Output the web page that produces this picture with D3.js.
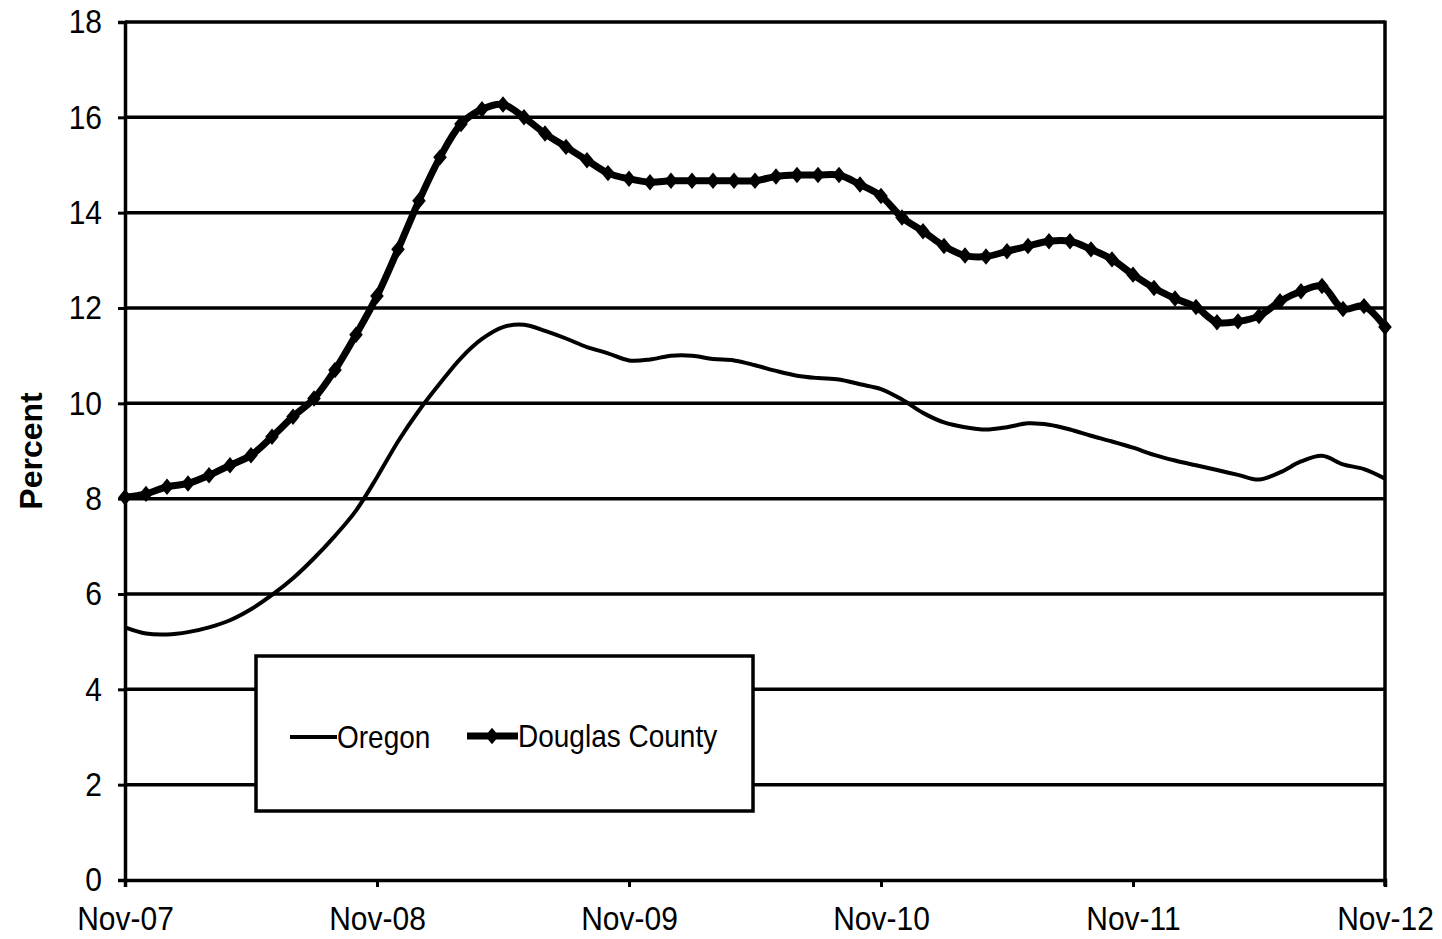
<!DOCTYPE html>
<html><head><meta charset="utf-8">
<script src="https://cdn.jsdelivr.net/npm/d3@7"></script>
<style>body{margin:0;background:#fff}svg{display:block}text{font-family:"Liberation Sans",Arial,sans-serif;fill:#000}
.st{transform-box:fill-box;transform-origin:center;transform:scaleY(1.12)}</style>
</head><body><svg id="c" width="1442" height="939"></svg>
<script>
const xTickLabels = ["Nov-07","Nov-08","Nov-09","Nov-10","Nov-11","Nov-12"];
const yTicks = [0,2,4,6,8,10,12,14,16,18];
const seriesNames = ["Oregon","Douglas County"];
const oregon = [5.3,5.17,5.15,5.2,5.3,5.45,5.68,5.98,6.33,6.75,7.22,7.75,8.45,9.2,9.85,10.42,10.95,11.35,11.6,11.65,11.52,11.36,11.18,11.05,
  10.9,10.92,11.0,11.0,10.93,10.9,10.8,10.68,10.58,10.53,10.5,10.4,10.3,10.08,9.8,9.6,9.5,9.45,9.5,9.58,9.55,9.45,9.32,9.2,9.07,8.92,8.8,8.7,8.6,8.5,8.4,8.55,8.78,8.9,8.72,8.62,8.42];
const douglas = [8.03,8.1,8.25,8.32,8.49,8.7,8.91,9.3,9.72,10.1,10.7,11.44,12.25,13.23,14.25,15.16,15.86,16.17,16.27,16.0,15.66,15.38,15.1,14.83,
  14.71,14.64,14.67,14.67,14.67,14.67,14.67,14.76,14.79,14.79,14.79,14.59,14.35,13.9,13.61,13.3,13.1,13.08,13.19,13.3,13.4,13.4,13.23,13.02,12.7,12.42,12.2,12.02,11.7,11.72,11.83,12.14,12.35,12.46,11.98,12.04,11.6];

const svg = d3.select("#c");
const L=125, R=1385, T=22, B=880;
const x = d3.scaleLinear().domain([0,60]).range([L,R]);
const y = d3.scaleLinear().domain([0,18]).range([B,T]);

svg.append("g").selectAll("line").data(yTicks.filter(d=>d>0)).join("line")
  .attr("x1",L).attr("x2",R).attr("y1",d=>y(d)).attr("y2",d=>y(d))
  .attr("stroke","#000").attr("stroke-width",3.5);
svg.append("line").attr("x1",R).attr("x2",R).attr("y1",T-1.5).attr("y2",B+6).attr("stroke","#000").attr("stroke-width",3.5);

const yAxis = svg.append("g").attr("transform",`translate(${L},0)`)
  .call(d3.axisLeft(y).tickValues(yTicks).tickSize(7).tickPadding(16));
const xAxis = svg.append("g").attr("transform",`translate(0,${B})`)
  .call(d3.axisBottom(x).tickValues([0,12,24,36,48,60]).tickFormat((d,i)=>xTickLabels[i]).tickSize(7).tickPadding(20));
[yAxis,xAxis].forEach(a=>{
  a.select(".domain").attr("stroke","#000").attr("stroke-width",3.5);
  a.selectAll(".tick line").attr("stroke","#000").attr("stroke-width",3);
  a.selectAll(".tick text").attr("font-size",30).attr("font-family","Liberation Sans, Arial, sans-serif").attr("fill","#000").attr("class","st");
});

svg.append("text").attr("transform","translate(42,451) rotate(-90)").attr("text-anchor","middle")
  .attr("font-size",32).attr("font-weight","bold").text("Percent");

const lineGen = d3.line().x((d,i)=>x(i)).y(d=>y(d)).curve(d3.curveCatmullRom);
svg.append("path").datum(oregon).attr("d",lineGen).attr("fill","none").attr("stroke","#000").attr("stroke-width",4);
svg.append("path").datum(douglas).attr("d",lineGen).attr("fill","none").attr("stroke","#000").attr("stroke-width",7);
const diamondType = {draw(ctx,size){const h=Math.sqrt(size)*0.75,w=Math.sqrt(size)*0.62;ctx.moveTo(0,-h);ctx.lineTo(w,0);ctx.lineTo(0,h);ctx.lineTo(-w,0);ctx.closePath();}};
const diamond = d3.symbol().type(diamondType).size(120);
svg.append("g").selectAll("path").data(douglas).join("path")
  .attr("d",diamond).attr("transform",(d,i)=>`translate(${x(i)},${y(d)})`).attr("fill","#000");

const lg = svg.append("g");
lg.append("rect").attr("x",256).attr("y",656).attr("width",497).attr("height",155)
  .attr("fill","#fff").attr("stroke","#000").attr("stroke-width",3.5);
lg.append("line").attr("x1",290).attr("x2",337).attr("y1",737).attr("y2",737).attr("stroke","#000").attr("stroke-width",4);
lg.append("text").attr("x",337).attr("y",747).attr("font-size",28).attr("class","st").text(seriesNames[0]);
lg.append("line").attr("x1",467).attr("x2",518).attr("y1",736).attr("y2",736).attr("stroke","#000").attr("stroke-width",7);
lg.append("path").attr("d",diamond).attr("transform","translate(492,736)").attr("fill","#000");
lg.append("text").attr("x",518).attr("y",746).attr("font-size",28).attr("class","st").text(seriesNames[1]);
</script></body></html>
